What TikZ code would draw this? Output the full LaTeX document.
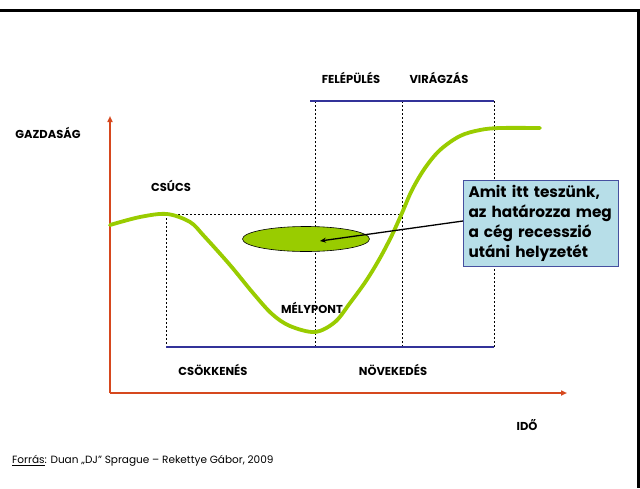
\documentclass[tikz,border=0pt]{standalone}
\usepackage{fontspec}
\setmainfont{Poppins}
\usetikzlibrary{shapes.geometric,arrows.meta}
\definecolor{axisred}{RGB}{214,72,30}
\definecolor{curvegreen}{RGB}{153,204,0}
\definecolor{phaseblue}{RGB}{51,51,153}
\definecolor{boxfill}{RGB}{183,222,232}
\definecolor{boxedge}{RGB}{70,80,160}
\tikzset{
  lbl/.style={font=\bfseries\fontsize{11.5}{13}\selectfont, inner sep=0pt},
  axisline/.style={draw=axisred, line width=1.6pt, -{Triangle[width=5pt,length=6pt]}},
  guide/.style={draw=black, dashed, line width=0.6pt, dash pattern=on 2pt off 2pt},
  phase/.style={draw=phaseblue, line width=2.2pt},
  frameline/.style={draw=black, line width=3pt},
}
\begin{document}
\begin{tikzpicture}[x=1pt,y=-1pt]
\useasboundingbox (0,0) rectangle (640,488);
% frame
\draw[frameline] (0,10) -- (638,10) -- (638,488);
% axes
\coordinate (origin) at (110,393);
\coordinate (ytip) at (110,116);
\coordinate (xtip) at (567,393);
\draw[axisline] (origin) -- (ytip);
\draw[axisline] (origin) -- (xtip);
% guide coordinates
\coordinate (p1t) at (166,214);
\coordinate (p1b) at (166,347);
\coordinate (p2t) at (315,101);
\coordinate (p2b) at (315,347);
\coordinate (p3t) at (402,101);
\coordinate (p3b) at (402,214);
\coordinate (p3m) at (402,347);
\coordinate (p4t) at (494,101);
\coordinate (p4b) at (494,347);
\draw[guide] (p1t) -- (p1b);
\draw[guide] (p2t) -- (p2b);
\draw[guide] (p3t) -- (p3m);
\draw[guide] (p4t) -- (p4b);
\draw[guide] (p1t) -- (p3b);
% ellipse
\node[ellipse, draw=black, line width=0.6pt, fill=curvegreen, minimum width=127pt, minimum height=25pt, inner sep=0pt] (ell) at (306,239) {};
% phase bars
\draw[phase] (310,101) -- (p4t);
\draw[phase] (p1b) -- (p4b);
% curve
\draw[curvegreen, line width=3.8pt, line cap=round] plot[smooth, tension=0.55] coordinates {
 (110,225) (140,217) (167,214) (190,222) (204,236) (230,265) (253,293) (272,314) (290,326) (315,332)
 (335,322) (350,303) (366,281) (380,258) (392,235) (402,213) (412,190) (425,168) (440,150) (460,136) (480,130) (500,128) (540,128)};
% labels
\node[lbl] (gazd) at (48,133) {GAZDASÁG};
\node[lbl] (fel) at (351,78) {FELÉPÜLÉS};
\node[lbl] (vir) at (439,78) {VIRÁGZÁS};
\node[lbl] (csucs) at (171,186) {CSÚCS};
\node[lbl] (mely) at (312,308) {MÉLYPONT};
\node[lbl] (csokk) at (213,370) {CSÖKKENÉS};
\node[lbl] (nov) at (393,370) {NÖVEKEDÉS};
\node[lbl] (ido) at (527,425) {IDŐ};
\node[anchor=west, inner sep=0pt, font=\fontsize{10.5}{12}\selectfont] (forras) at (12,461) {\underline{Forrás}: Duan „DJ” Sprague – Rekettye Gábor, 2009};
% callout
\node[draw=boxedge, line width=1pt, fill=boxfill, anchor=north west, minimum width=155pt, minimum height=86pt, text width=145pt, inner xsep=5pt, inner ysep=3pt, align=left,
      font=\bfseries\fontsize{15.3}{20}\selectfont] (box) at (463,180) {Amit itt teszünk,\\az határozza meg\\a cég recesszió\\utáni helyzetét};
\coordinate (arrtip) at (320,241);
\draw[black, line width=1.3pt, -{Stealth[length=6pt,width=5pt]}] (box.west |- 0,221) -- (arrtip);
\end{tikzpicture}
\end{document}
